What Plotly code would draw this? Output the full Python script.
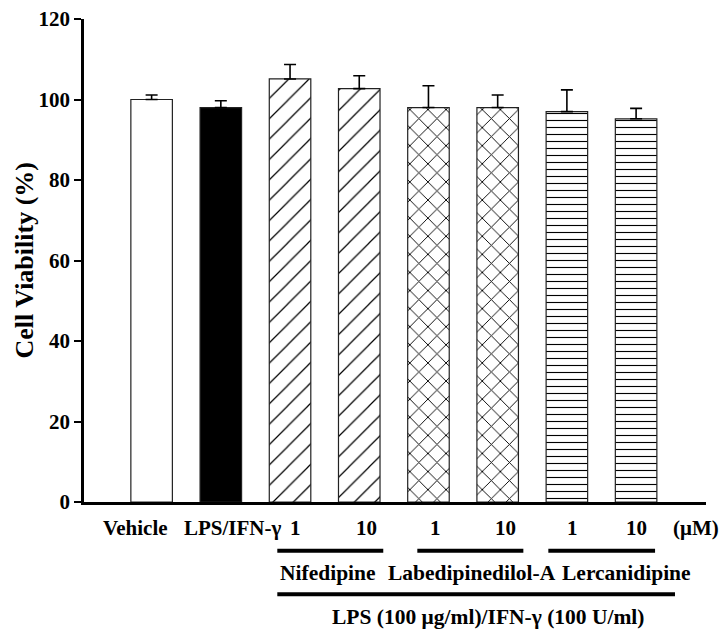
import plotly.graph_objects as go

# ---- data ----
groups = ["Vehicle", "LPS/IFN-γ", "Nif 1", "Nif 10", "Lab 1", "Lab 10", "Ler 1", "Ler 10"]
viability = [100.0, 98.0, 105.1, 102.7, 98.0, 98.0, 97.0, 95.2]
sd = [1.1, 1.7, 3.6, 3.2, 5.4, 3.1, 5.4, 2.6]
tick_labels = ["Vehicle", "LPS/IFN-γ", "1", "10", "1", "10", "1", "10", "(μM)"]
drug_labels = ["Nifedipine", "Labedipinedilol-A", "Lercanidipine"]
treatment_label = "LPS (100 μg/ml)/IFN-γ (100 U/ml)"
y_ticks = [0, 20, 40, 60, 80, 100, 120]

# ---- styling / layout ----
FONT = "Liberation Serif, Times New Roman, serif"
xpos = list(range(len(groups)))
XMIN, XMAX = -0.977, 8.01
fill = ["white", "black", "white", "white", "white", "white", "white", "white"]
pat_shape = ["", "", "/", "/", "x", "x", "-", "-"]
pat_size = [8, 8, 14.4, 14.4, 12.8, 12.8, 7.0, 7.0]
pat_sol = [0.1, 0.1, 0.085, 0.085, 0.14, 0.14, 0.16, 0.16]

fig = go.Figure()
for i in range(len(groups)):
    marker = dict(color=fill[i], line=dict(color="#222", width=1.2))
    if pat_shape[i]:
        marker["pattern"] = dict(shape=pat_shape[i], size=pat_size[i], solidity=pat_sol[i],
                                 fgcolor="black", bgcolor=fill[i], fgopacity=1)
    fig.add_trace(go.Bar(
        x=[xpos[i]], y=[viability[i]], width=0.6, name=groups[i],
        marker=marker,
        error_y=dict(type="data", array=[sd[i]], arrayminus=[0], symmetric=False,
                     color="black", thickness=1.6, width=6),
        showlegend=False,
    ))

def to_paper(d):
    return (d - XMIN) / (XMAX - XMIN)

ann = []
label_x = [-0.24, 1.176, 2.086, 3.108, 4.1, 5.12, 6.08, 7.01, 7.87]
for lx, t in zip(label_x, tick_labels):
    ann.append(dict(x=lx, y=-0.054, xref="x", yref="paper", text=t, showarrow=False,
                    xanchor="center", yanchor="middle",
                    font=dict(family=FONT, size=21, color="black", weight="bold")))
drug_x = [2.553, 4.634, 6.855]
for dx, t in zip(drug_x, drug_labels):
    ann.append(dict(x=dx, y=-0.147, xref="x", yref="paper", text=t, showarrow=False,
                    xanchor="center", yanchor="middle",
                    font=dict(family=FONT, size=21.5, color="black", weight="bold")))
ann.append(dict(x=4.865, y=-0.238, xref="x", yref="paper", text=treatment_label, showarrow=False,
                xanchor="center", yanchor="middle",
                font=dict(family=FONT, size=21.5, color="black", weight="bold")))
ann.append(dict(x=-0.0949, y=0.5, xref="paper", yref="paper", text="Cell Viability (%)",
                showarrow=False, textangle=-90, xanchor="center", yanchor="middle",
                font=dict(family=FONT, size=26, color="black", weight="bold")))

shapes = []
for a, b in [(1.816, 3.347), (3.839, 5.371), (5.732, 7.274)]:
    shapes.append(dict(type="line", xref="paper", yref="paper",
                       x0=to_paper(a), x1=to_paper(b), y0=-0.1009, y1=-0.1009,
                       line=dict(color="black", width=4)))
shapes.append(dict(type="line", xref="paper", yref="paper",
                   x0=to_paper(1.816), x1=to_paper(7.562), y0=-0.1912, y1=-0.1912,
                   line=dict(color="black", width=4)))

fig.update_layout(
    width=721, height=630,
    margin=dict(l=84, r=15, t=19, b=128, autoexpand=False),
    plot_bgcolor="white", paper_bgcolor="white",
    barmode="overlay",
    xaxis=dict(range=[XMIN, XMAX], showgrid=False, zeroline=False, showticklabels=False,
               ticks="", showline=True, linecolor="black", linewidth=2.5, automargin=False),
    yaxis=dict(range=[0, 120], tickvals=y_ticks, showgrid=False, zeroline=False,
               ticks="outside", ticklen=7, tickwidth=2, tickcolor="black",
               showline=True, linecolor="black", linewidth=2.5, automargin=False,
               tickfont=dict(family=FONT, size=21, color="black", weight="bold")),
    annotations=ann, shapes=shapes,
)

fig.write_html("out.html", config={"displayModeBar": False},
               post_script="document.body.style.margin='0';document.body.style.padding='0';")
